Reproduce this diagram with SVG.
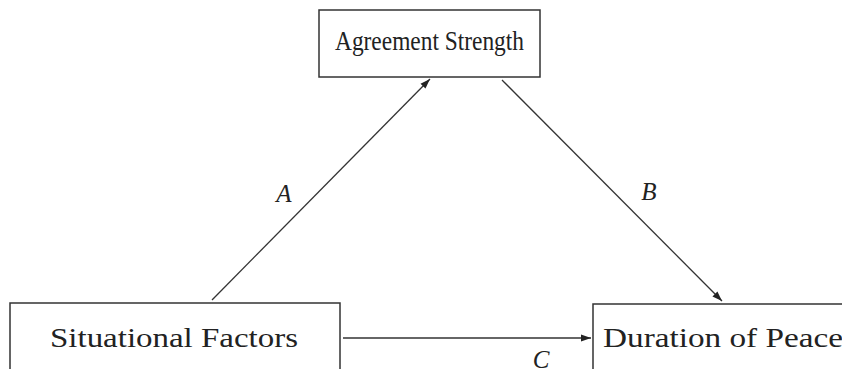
<svg xmlns="http://www.w3.org/2000/svg" width="842" height="369" viewBox="0 0 842 369">
<style>
.box{fill:#fff;stroke:#333;stroke-width:1.5}
.t{font-family:"Liberation Serif",serif;font-size:27px;fill:#222}
.l{font-family:"Liberation Serif",serif;font-style:italic;font-size:25px;fill:#222}
.c{stroke:#333;stroke-width:1.3;fill:none}
</style>
<defs>
<marker id="ah" viewBox="0 0 10 10" refX="10" refY="5" markerWidth="10" markerHeight="10" markerUnits="userSpaceOnUse" orient="auto">
<path d="M0,1.5 L10,5 L0,8.5 Z" fill="#222"/>
</marker>
</defs>
<rect width="842" height="369" fill="#fff"/>
<g id="agreement">
<rect class="box" x="319" y="10" width="221" height="67"/>
<text class="t" x="335" y="50" textLength="189" lengthAdjust="spacingAndGlyphs">Agreement Strength</text>
</g>
<g id="situational">
<rect class="box" x="10" y="303" width="330" height="80"/>
<text class="t" x="50" y="347" textLength="248" lengthAdjust="spacingAndGlyphs">Situational Factors</text>
</g>
<g id="duration">
<rect class="box" x="593" y="304" width="260" height="80"/>
<text class="t" x="603" y="347" textLength="240" lengthAdjust="spacingAndGlyphs">Duration of Peace</text>
</g>
<g id="connectors">
<line class="c" x1="212" y1="300" x2="430" y2="79" marker-end="url(#ah)"/>
<line class="c" x1="502" y1="80" x2="722" y2="301" marker-end="url(#ah)"/>
<line class="c" x1="343" y1="338" x2="591" y2="338" marker-end="url(#ah)"/>
<text class="l" x="284" y="202" text-anchor="middle">A</text>
<text class="l" x="649" y="200" text-anchor="middle">B</text>
<text class="l" x="541" y="368" text-anchor="middle">C</text>
</g>
</svg>
